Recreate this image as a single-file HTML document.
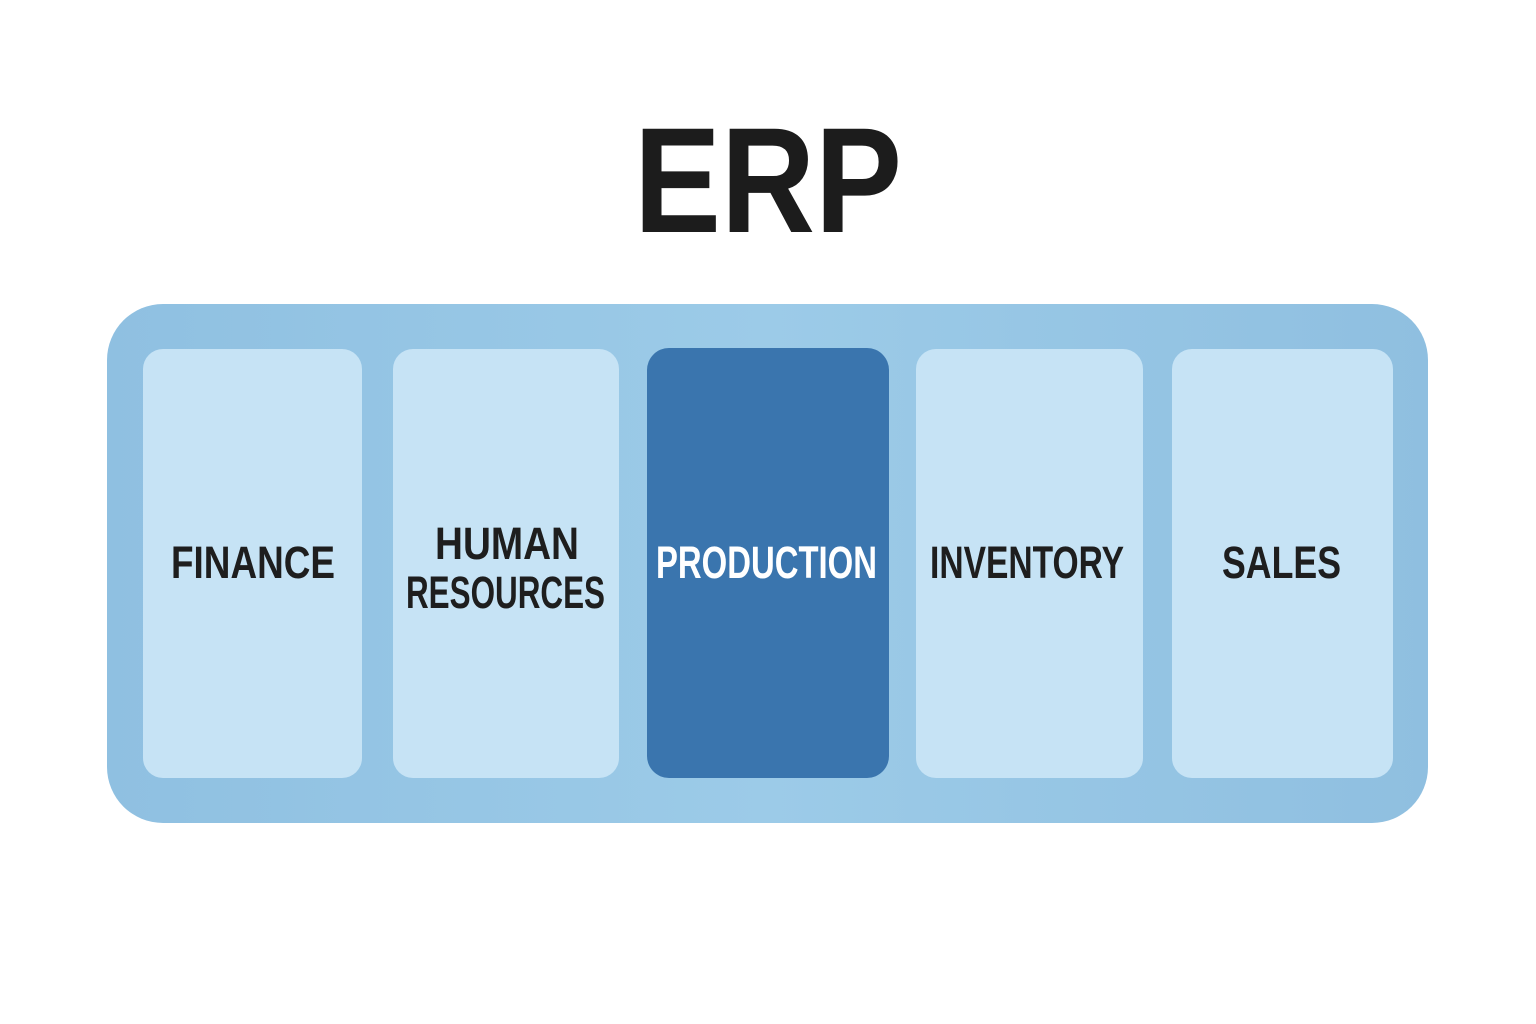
<!DOCTYPE html>
<html>
<head>
<meta charset="utf-8">
<style>
  html, body { margin: 0; padding: 0; background: #ffffff; }
  body { width: 1536px; height: 1024px; overflow: hidden; }
  svg { display: block; }
</style>
</head>
<body>
<svg width="1536" height="1024" viewBox="0 0 1536 1024" xmlns="http://www.w3.org/2000/svg">
  <defs>
    <linearGradient id="outer" x1="0" y1="0" x2="1" y2="0">
      <stop offset="0" stop-color="#8fc0e1"/>
      <stop offset="0.5" stop-color="#9ccbe8"/>
      <stop offset="1" stop-color="#8fbfe0"/>
    </linearGradient>
  </defs>
  <rect x="0" y="0" width="1536" height="1024" fill="#ffffff"/>

  <text x="634" y="232" font-family="Liberation Sans, sans-serif" font-weight="bold" font-size="150" fill="#1c1c1c" textLength="268" lengthAdjust="spacingAndGlyphs">ERP</text>

  <rect x="107" y="304" width="1321" height="519" rx="56" ry="56" fill="url(#outer)"/>

  <rect x="143" y="349" width="219" height="429" rx="20" ry="20" fill="#c6e3f5"/>
  <rect x="393" y="349" width="226" height="429" rx="20" ry="20" fill="#c6e3f5"/>
  <rect x="647" y="348" width="242" height="430" rx="22" ry="22" fill="#3a75ae"/>
  <rect x="916" y="349" width="227" height="429" rx="20" ry="20" fill="#c6e3f5"/>
  <rect x="1172" y="349" width="221" height="429" rx="20" ry="20" fill="#c6e3f5"/>

  <g font-family="Liberation Sans, sans-serif" font-weight="bold" font-size="45" fill="#1e1e1e">
    <text x="171" y="578" textLength="164" lengthAdjust="spacingAndGlyphs">FINANCE</text>
    <text x="435" y="559" textLength="144" lengthAdjust="spacingAndGlyphs">HUMAN</text>
    <text x="406" y="608" textLength="199" lengthAdjust="spacingAndGlyphs">RESOURCES</text>
    <text x="656" y="578" textLength="221" lengthAdjust="spacingAndGlyphs" fill="#ffffff">PRODUCTION</text>
    <text x="930" y="578" textLength="194" lengthAdjust="spacingAndGlyphs">INVENTORY</text>
    <text x="1222" y="578" textLength="119" lengthAdjust="spacingAndGlyphs">SALES</text>
  </g>
</svg>
</body>
</html>
